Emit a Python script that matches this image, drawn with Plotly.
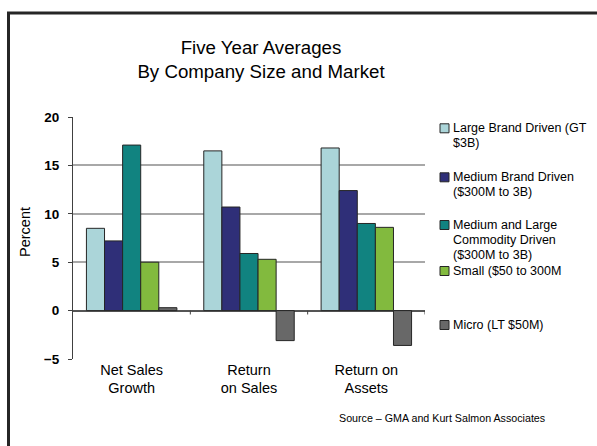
import plotly.graph_objects as go

# ---- data ----
categories = ["Net Sales<br>Growth", "Return<br>on Sales", "Return on<br>Assets"]
series_names = [
    "Large Brand Driven (GT<br>$3B)",
    "Medium Brand Driven<br>($300M to 3B)",
    "Medium and Large<br>Commodity Driven<br>($300M to 3B)",
    "Small ($50 to 300M",
    "Micro (LT $50M)",
]
large_brand = [8.5, 16.5, 16.8]
medium_brand = [7.2, 10.7, 12.4]
commodity = [17.1, 5.9, 9.0]
small = [5.0, 5.3, 8.6]
micro = [0.3, -3.1, -3.6]
series_values = [large_brand, medium_brand, commodity, small, micro]

y_ticks = [-5, 0, 5, 10, 15, 20]

# ---- style ----
colors = ["#abd5d9", "#2f2f78", "#118380", "#82ba3e", "#686868"]
FONT = "Liberation Sans, Arial, sans-serif"
EDGE = "#262626"

W, H = 597, 446
L, R, T, B = 73, 425, 117, 359          # plot area in pixels
PW, PH = R - L, B - T


def px_x(p):
    return (p - L) / PW


def px_y(p):
    return (B - p) / PH


fig = go.Figure()
for name, vals, col in zip(series_names, series_values, colors):
    fig.add_trace(go.Bar(
        x=categories, y=vals, name=name.replace("<br>", " "),
        marker=dict(color=col, line=dict(color=EDGE, width=1)),
        showlegend=False,
    ))

shapes = []
# outer frame (runs off the right and bottom of the page)
shapes.append(dict(type="rect", xref="paper", yref="paper",
                   x0=px_x(8.5), x1=px_x(640), y0=px_y(13), y1=px_y(520),
                   line=dict(color=EDGE, width=3), layer="below"))
# category boundary ticks on the zero line
for bx in [0.5, 1.5, 2.5]:
    shapes.append(dict(type="line", xref="x", yref="y",
                       x0=bx, x1=bx, y0=0, y1=-0.4,
                       line=dict(color="#404040", width=1)))

annotations = []
# y-axis title
annotations.append(dict(text="Percent", xref="paper", yref="paper",
                        x=px_x(25), y=px_y(232), textangle=-90,
                        showarrow=False, xanchor="center", yanchor="middle",
                        font=dict(family=FONT, size=14.5, color="#000")))
# source note
annotations.append(dict(text="Source \u2013 GMA and Kurt Salmon Associates",
                        xref="paper", yref="paper", x=px_x(442), y=px_y(418),
                        showarrow=False, xanchor="center", yanchor="middle",
                        font=dict(family=FONT, size=10.7, color="#000")))

# legend drawn beside the plot
legend_first_line = [128.3, 177.3, 225, 271, 325]
LINE_STEP = 15
for name, col, y0 in zip(series_names, colors, legend_first_line):
    shapes.append(dict(type="rect", xref="paper", yref="paper",
                       x0=px_x(440), x1=px_x(449),
                       y0=px_y(y0 + 4.5), y1=px_y(y0 - 4.5),
                       fillcolor=col, line=dict(color=EDGE, width=1)))
    for i, line in enumerate(name.split("<br>")):
        annotations.append(dict(text=line, xref="paper", yref="paper",
                                x=px_x(451), y=px_y(y0 + i * LINE_STEP),
                                showarrow=False, xanchor="left", yanchor="middle",
                                font=dict(family=FONT, size=12.5, color="#000")))

fig.update_layout(
    width=W, height=H,
    margin=dict(l=L, r=W - R, t=T, b=H - B, pad=0),
    paper_bgcolor="white", plot_bgcolor="white",
    barmode="group", bargap=0.229, bargroupgap=0,
    title=dict(text="Five Year Averages<br>By Company Size and Market",
               x=261 / W, xref="container", xanchor="center",
               y=1 - 54 / H, yref="container", yanchor="top",
               font=dict(family=FONT, size=18.7, color="#000")),
    xaxis=dict(showline=False, ticks="", showgrid=False, zeroline=False,
               tickfont=dict(family=FONT, size=14.5, color="#000"),
               range=[-0.5, 2.5]),
    yaxis=dict(range=[-5, 20], tickvals=y_ticks, ticks="outside", ticklen=4,
               tickcolor="#404040", showline=True, linecolor="#404040",
               linewidth=1, showgrid=True, gridcolor="#a8a8a8", gridwidth=1.5,
               zeroline=True, zerolinecolor="#555555", zerolinewidth=1.5,
               ticklabelstandoff=6,
               tickfont=dict(family=FONT, size=13.5, color="#000", weight="bold")),
    shapes=shapes, annotations=annotations,
)

fig.write_html("out.html")
